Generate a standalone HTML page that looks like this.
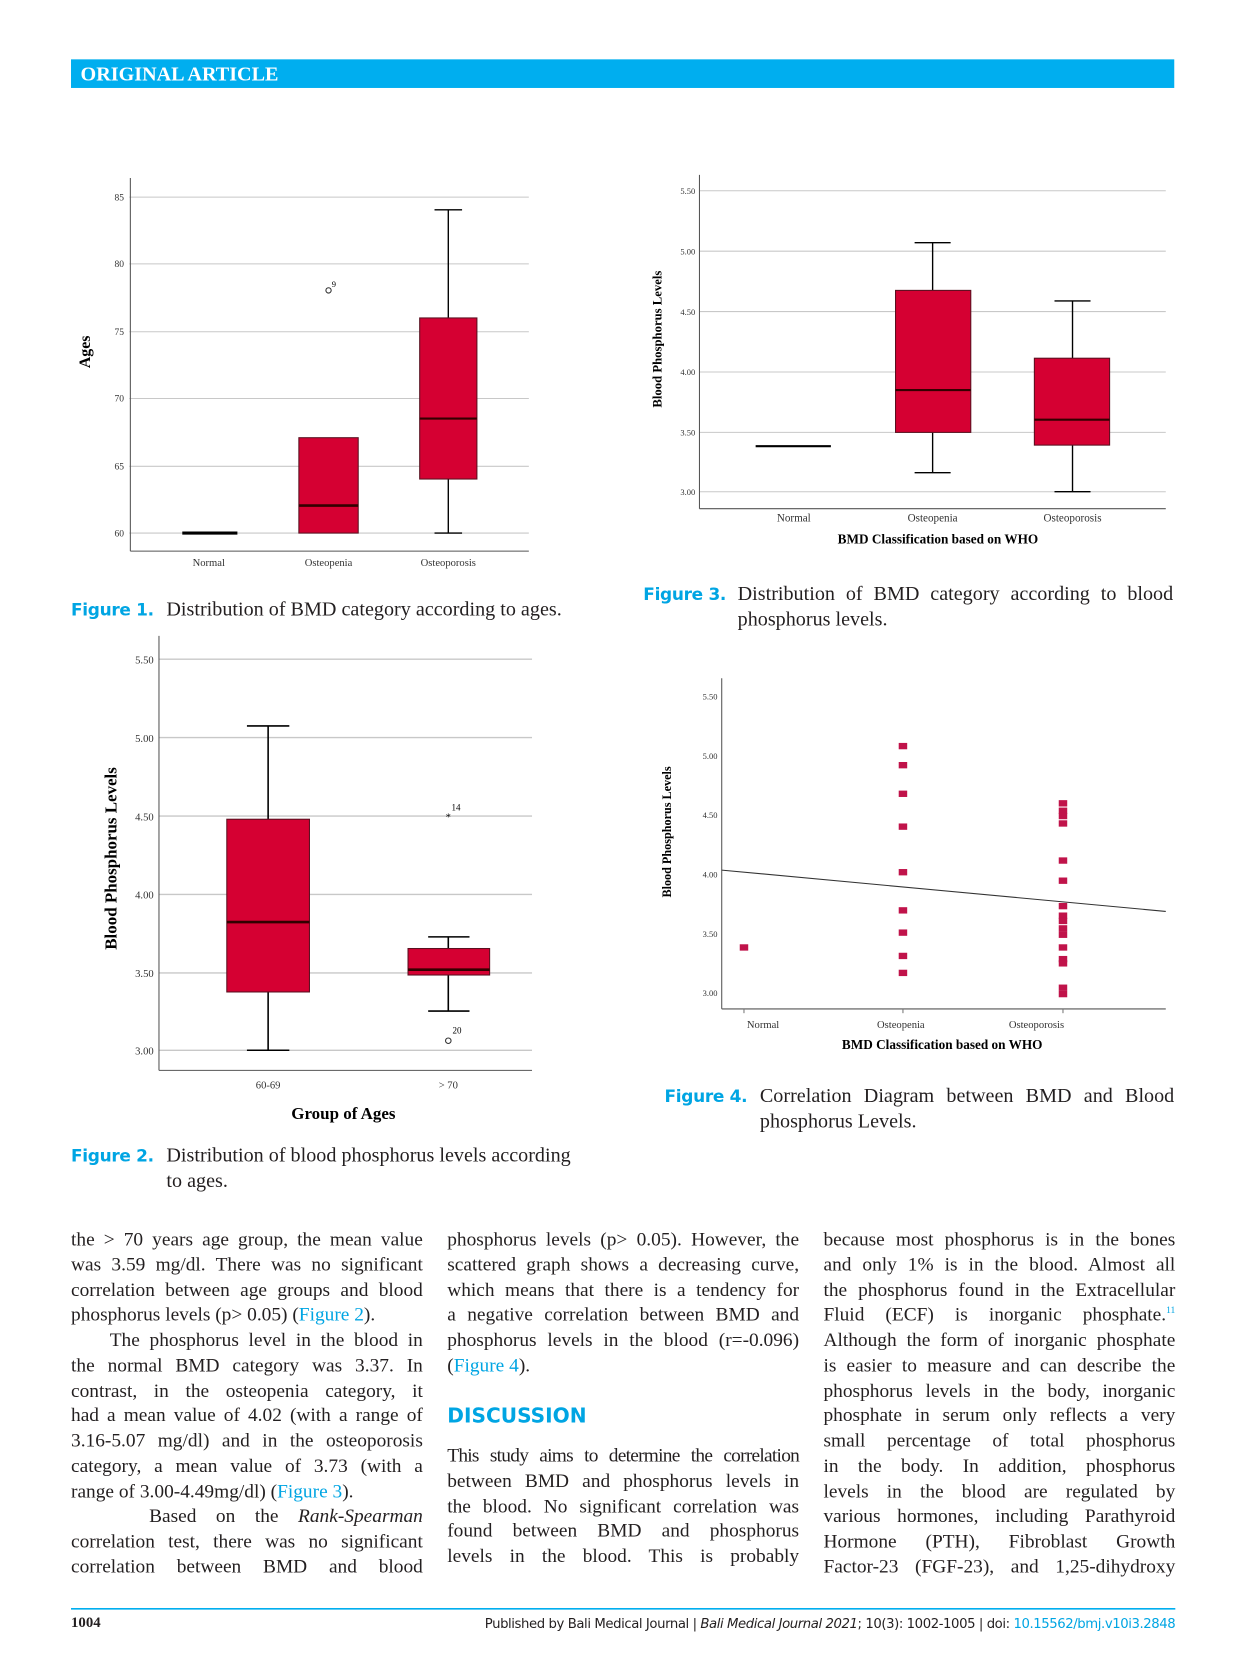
<!DOCTYPE html>
<html><head><meta charset="utf-8">
<style>
html,body{margin:0;padding:0;background:#fff;}
body{width:1240px;height:1654px;overflow:hidden;position:relative;}
#w{position:absolute;left:0;top:0;width:1170px;height:1561px;transform:scale(1.0598);transform-origin:0 0;}
.abs{position:absolute;}
.cap{font-family:"Liberation Serif",serif;font-size:19px;color:#231f20;line-height:24px;}
.fl{font-family:"DejaVu Sans","Liberation Sans",sans-serif;font-weight:bold;color:#00a5e3;font-size:16px;letter-spacing:-0.3px;}
.col{position:absolute;width:332px;font-family:"Liberation Serif",serif;font-size:18.3px;line-height:23.75px;color:#231f20;}
.col div{text-align:justify;text-align-last:justify;white-space:nowrap;height:23.75px;overflow:visible;}
.col div.l{text-align-last:left;}
.blue{color:#00a5e3;}
sup{line-height:0;vertical-align:0;position:relative;top:-7px;}
</style></head><body><div id="w">
<div class="abs" style="left:67px;top:56px;width:1041px;height:27px;background:#00aeef;"></div>
<div class="abs" style="left:76px;top:60px;font-family:'Liberation Serif',serif;font-weight:bold;font-size:19px;color:#fff;">ORIGINAL ARTICLE</div>

<svg class="abs" style="left:0;top:0" width="1170" height="1561" font-family="Liberation Serif, serif">
<!-- Figure 1 -->
<g stroke="#c8c8c8" stroke-width="1">
<line x1="122" x2="499" y1="186" y2="186"/><line x1="122" x2="499" y1="249" y2="249"/><line x1="122" x2="499" y1="313" y2="313"/><line x1="122" x2="499" y1="376" y2="376"/><line x1="122" x2="499" y1="440" y2="440"/><line x1="122" x2="499" y1="503" y2="503"/>
</g>
<g stroke="#555"><line x1="123" y1="168" x2="123" y2="520"/><line x1="123" y1="520" x2="499" y2="520"/></g>
<g font-size="9" fill="#333" text-anchor="end"><text x="117" y="189">85</text><text x="117" y="252">80</text><text x="117" y="316">75</text><text x="117" y="379">70</text><text x="117" y="443">65</text><text x="117" y="506">60</text></g>
<text transform="translate(85,332) rotate(-90)" font-size="15" font-weight="bold" text-anchor="middle">Ages</text>
<g font-size="10" fill="#333" text-anchor="middle"><text x="197" y="534">Normal</text><text x="310" y="534">Osteopenia</text><text x="423" y="534">Osteoporosis</text></g>
<line x1="172" x2="224" y1="503" y2="503" stroke="#000" stroke-width="3"/>
<rect x="282" y="413" width="56" height="90" fill="#d50032" stroke="#5a1020"/>
<line x1="282" x2="338" y1="477" y2="477" stroke="#300" stroke-width="2.5"/>
<line x1="423" x2="423" y1="198" y2="300" stroke="#000" stroke-width="1.3"/><line x1="423" x2="423" y1="452" y2="503" stroke="#000" stroke-width="1.3"/>
<line x1="410" x2="436" y1="198" y2="198" stroke="#000" stroke-width="1.3"/><line x1="410" x2="436" y1="503" y2="503" stroke="#000" stroke-width="1.3"/>
<rect x="396" y="300" width="54" height="152" fill="#d50032" stroke="#5a1020"/>
<line x1="396" x2="450" y1="395" y2="395" stroke="#300" stroke-width="2"/>
<circle cx="310" cy="274" r="2.5" fill="none" stroke="#333"/><text x="313" y="271" font-size="8">9</text>

<!-- Figure 3 -->
<g stroke="#c8c8c8"><line x1="660" x2="1100" y1="180" y2="180"/><line x1="660" x2="1100" y1="237" y2="237"/><line x1="660" x2="1100" y1="294" y2="294"/><line x1="660" x2="1100" y1="351" y2="351"/><line x1="660" x2="1100" y1="408" y2="408"/><line x1="660" x2="1100" y1="464" y2="464"/></g>
<g stroke="#555"><line x1="660" y1="165" x2="660" y2="480"/><line x1="660" y1="480" x2="1100" y2="480"/></g>
<g font-size="8" fill="#333" text-anchor="end"><text x="656" y="183">5.50</text><text x="656" y="240">5.00</text><text x="656" y="297">4.50</text><text x="656" y="354">4.00</text><text x="656" y="411">3.50</text><text x="656" y="467">3.00</text></g>
<text transform="translate(624,320) rotate(-90)" font-size="12" font-weight="bold" text-anchor="middle">Blood Phosphorus Levels</text>
<g font-size="10.5" fill="#333" text-anchor="middle"><text x="749" y="492">Normal</text><text x="880" y="492">Osteopenia</text><text x="1012" y="492">Osteoporosis</text></g>
<text x="885" y="513" font-size="12.5" font-weight="bold" text-anchor="middle">BMD Classification based on WHO</text>
<line x1="713" x2="784" y1="421" y2="421" stroke="#000" stroke-width="2"/>
<g stroke="#000" stroke-width="1.3"><line x1="880" x2="880" y1="229" y2="274"/><line x1="880" x2="880" y1="408" y2="446"/><line x1="863" x2="897" y1="229" y2="229"/><line x1="863" x2="897" y1="446" y2="446"/>
<line x1="1012" x2="1012" y1="284" y2="338"/><line x1="1012" x2="1012" y1="420" y2="464"/><line x1="995" x2="1029" y1="284" y2="284"/><line x1="995" x2="1029" y1="464" y2="464"/></g>
<rect x="845" y="274" width="71" height="134" fill="#d50032" stroke="#5a1020"/>
<line x1="845" x2="916" y1="368" y2="368" stroke="#300" stroke-width="2"/>
<rect x="976" y="338" width="71" height="82" fill="#d50032" stroke="#5a1020"/>
<line x1="976" x2="1047" y1="396" y2="396" stroke="#300" stroke-width="2"/>

<!-- Figure 2 -->
<g stroke="#c8c8c8" stroke-width="1.3"><line x1="150" x2="502" y1="622" y2="622"/><line x1="150" x2="502" y1="696" y2="696"/><line x1="150" x2="502" y1="770" y2="770"/><line x1="150" x2="502" y1="844" y2="844"/><line x1="150" x2="502" y1="918" y2="918"/><line x1="150" x2="502" y1="991" y2="991"/></g>
<g stroke="#555"><line x1="150" y1="600" x2="150" y2="1010"/><line x1="150" y1="1010" x2="502" y2="1010"/></g>
<g font-size="10" fill="#333" text-anchor="end"><text x="145" y="626">5.50</text><text x="145" y="700">5.00</text><text x="145" y="774">4.50</text><text x="145" y="848">4.00</text><text x="145" y="922">3.50</text><text x="145" y="995">3.00</text></g>
<text transform="translate(110,810) rotate(-90)" font-size="16" font-weight="bold" text-anchor="middle">Blood Phosphorus Levels</text>
<g font-size="10" fill="#333" text-anchor="middle"><text x="253" y="1027">60-69</text><text x="423" y="1027">&gt; 70</text></g>
<text x="324" y="1056" font-size="16" font-weight="bold" text-anchor="middle">Group of Ages</text>
<g stroke="#000" stroke-width="1.5"><line x1="253" x2="253" y1="685" y2="773"/><line x1="253" x2="253" y1="936" y2="991"/><line x1="233" x2="273" y1="685" y2="685"/><line x1="233" x2="273" y1="991" y2="991"/>
<line x1="423" x2="423" y1="884" y2="895"/><line x1="423" x2="423" y1="920" y2="954"/><line x1="404" x2="443" y1="884" y2="884"/><line x1="404" x2="443" y1="954" y2="954"/></g>
<rect x="214" y="773" width="78" height="163" fill="#d50032" stroke="#5a1020"/>
<line x1="214" x2="292" y1="870" y2="870" stroke="#300" stroke-width="2.5"/>
<rect x="385" y="895" width="77" height="25" fill="#d50032" stroke="#5a1020"/>
<line x1="385" x2="462" y1="915" y2="915" stroke="#300" stroke-width="2.5"/>
<text x="423" y="774" font-size="10" text-anchor="middle">*</text><text x="426" y="765" font-size="8.5">14</text>
<circle cx="423" cy="982" r="2.6" fill="none" stroke="#333"/><text x="427" y="975" font-size="8.5">20</text>

<!-- Figure 4 -->
<g stroke="#555"><line x1="681" y1="640" x2="681" y2="952"/><line x1="681" y1="952" x2="1100" y2="952"/></g>
<g stroke="#777"><line x1="702" x2="702" y1="952" y2="956"/><line x1="852" x2="852" y1="952" y2="956"/><line x1="1003" x2="1003" y1="952" y2="956"/></g>
<g font-size="8" fill="#333" text-anchor="end"><text x="677" y="660">5.50</text><text x="677" y="716">5.00</text><text x="677" y="772">4.50</text><text x="677" y="828">4.00</text><text x="677" y="884">3.50</text><text x="677" y="940">3.00</text></g>
<text transform="translate(633,785) rotate(-90)" font-size="11.5" font-weight="bold" text-anchor="middle">Blood Phosphorus Levels</text>
<g font-size="10" fill="#333" text-anchor="middle"><text x="720" y="970">Normal</text><text x="850" y="970">Osteopenia</text><text x="978" y="970">Osteoporosis</text></g>
<text x="889" y="990" font-size="12.5" font-weight="bold" text-anchor="middle">BMD Classification based on WHO</text>
<line x1="681" y1="821" x2="1100" y2="860" stroke="#333" stroke-width="1"/>
<g fill="#c0134a">
<rect x="698" y="891" width="8" height="6"/>
<rect x="848" y="701" width="8" height="6"/><rect x="848" y="719" width="8" height="6"/><rect x="848" y="746" width="8" height="6"/><rect x="848" y="777" width="8" height="6"/><rect x="848" y="820" width="8" height="6"/><rect x="848" y="856" width="8" height="6"/><rect x="848" y="877" width="8" height="6"/><rect x="848" y="899" width="8" height="6"/><rect x="848" y="915" width="8" height="6"/>
<rect x="999" y="755" width="8" height="6"/><rect x="999" y="762" width="8" height="6"/><rect x="999" y="767" width="8" height="6"/><rect x="999" y="774" width="8" height="6"/><rect x="999" y="809" width="8" height="6"/><rect x="999" y="828" width="8" height="6"/><rect x="999" y="852" width="8" height="6"/><rect x="999" y="861" width="8" height="6"/><rect x="999" y="866" width="8" height="6"/><rect x="999" y="873" width="8" height="6"/><rect x="999" y="879" width="8" height="6"/><rect x="999" y="891" width="8" height="6"/><rect x="999" y="902" width="8" height="6"/><rect x="999" y="906" width="8" height="6"/><rect x="999" y="929" width="8" height="6"/><rect x="999" y="935" width="8" height="6"/>
</g>
<line x1="67" x2="1109" y1="1518" y2="1518" stroke="#00aeef" stroke-width="1.5"/>
</svg>

<!-- captions -->
<div class="abs fl" style="left:67px;top:566px;">Figure 1.</div>
<div class="abs cap" style="left:157px;top:564px;white-space:nowrap;">Distribution of BMD category according to ages.</div>
<div class="abs fl" style="left:607px;top:551px;">Figure 3.</div>
<div class="abs cap" style="left:696px;top:549px;width:411px;"><div style="text-align:justify;text-align-last:justify;white-space:nowrap;">Distribution of BMD category according to blood</div><div>phosphorus levels.</div></div>
<div class="abs fl" style="left:627px;top:1025px;">Figure 4.</div>
<div class="abs cap" style="left:717px;top:1023px;width:391px;"><div style="text-align:justify;text-align-last:justify;white-space:nowrap;">Correlation Diagram between BMD and Blood</div><div>phosphorus Levels.</div></div>
<div class="abs fl" style="left:67px;top:1081px;">Figure 2.</div>
<div class="abs cap" style="left:157px;top:1079px;width:410px;white-space:nowrap;"><div>Distribution of blood phosphorus levels according</div><div>to ages.</div></div>

<!-- body -->
<div class="col" style="left:67px;top:1158px;">
<div>the &gt; 70 years age group, the mean value</div>
<div>was 3.59 mg/dl. There was no significant</div>
<div>correlation between age groups and blood</div>
<div class="l">phosphorus levels (p&gt; 0.05) (<span class="blue">Figure 2</span>).</div>
<div>&nbsp;&nbsp;&nbsp;&nbsp;The phosphorus level in the blood in</div>
<div>the normal BMD category was 3.37. In</div>
<div>contrast, in the osteopenia category, it</div>
<div>had a mean value of 4.02 (with a range of</div>
<div>3.16-5.07 mg/dl) and in the osteoporosis</div>
<div>category, a mean value of 3.73 (with a</div>
<div class="l">range of 3.00-4.49mg/dl) (<span class="blue">Figure 3</span>).</div>
<div>&nbsp;&nbsp;&nbsp;&nbsp;Based on the <i>Rank-Spearman</i></div>
<div>correlation test, there was no significant</div>
<div>correlation between BMD and blood</div>
</div>
<div class="col" style="left:422px;top:1158px;">
<div>phosphorus levels (p&gt; 0.05). However, the</div>
<div>scattered graph shows a decreasing curve,</div>
<div>which means that there is a tendency for</div>
<div>a negative correlation between BMD and</div>
<div>phosphorus levels in the blood (r=-0.096)</div>
<div class="l">(<span class="blue">Figure 4</span>).</div>
</div>
<div class="abs" style="left:422px;top:1325px;font-family:'DejaVu Sans','Liberation Sans',sans-serif;font-weight:bold;font-size:19px;color:#00a5e3;">DISCUSSION</div>
<div class="col" style="left:422px;top:1362px;">
<div style="letter-spacing:-0.7px;word-spacing:-1px;">This study aims to determine the correlation</div>
<div>between BMD and phosphorus levels in</div>
<div>the blood. No significant correlation was</div>
<div>found between BMD and phosphorus</div>
<div>levels in the blood. This is probably</div>
</div>
<div class="col" style="left:777px;top:1158px;">
<div>because most phosphorus is in the bones</div>
<div>and only 1% is in the blood. Almost all</div>
<div>the phosphorus found in the Extracellular</div>
<div>Fluid (ECF) is inorganic phosphate.<sup class="blue" style="font-size:9px">11</sup></div>
<div>Although the form of inorganic phosphate</div>
<div>is easier to measure and can describe the</div>
<div>phosphorus levels in the body, inorganic</div>
<div>phosphate in serum only reflects a very</div>
<div>small percentage of total phosphorus</div>
<div>in the body. In addition, phosphorus</div>
<div>levels in the blood are regulated by</div>
<div>various hormones, including Parathyroid</div>
<div>Hormone (PTH), Fibroblast Growth</div>
<div>Factor-23 (FGF-23), and 1,25-dihydroxy</div>
</div>

<div class="abs" style="left:67px;top:1524px;font-family:'Liberation Serif',serif;font-weight:bold;font-size:14px;color:#231f20;">1004</div>
<div class="abs" style="right:61px;top:1524px;font-family:'DejaVu Sans','Liberation Sans',sans-serif;font-size:12.5px;color:#231f20;white-space:nowrap;letter-spacing:-0.4px;">Published by Bali Medical Journal | <i>Bali Medical Journal 2021</i>; 10(3): 1002-1005 | doi: <span class="blue">10.15562/bmj.v10i3.2848</span></div>
</div></body></html>
